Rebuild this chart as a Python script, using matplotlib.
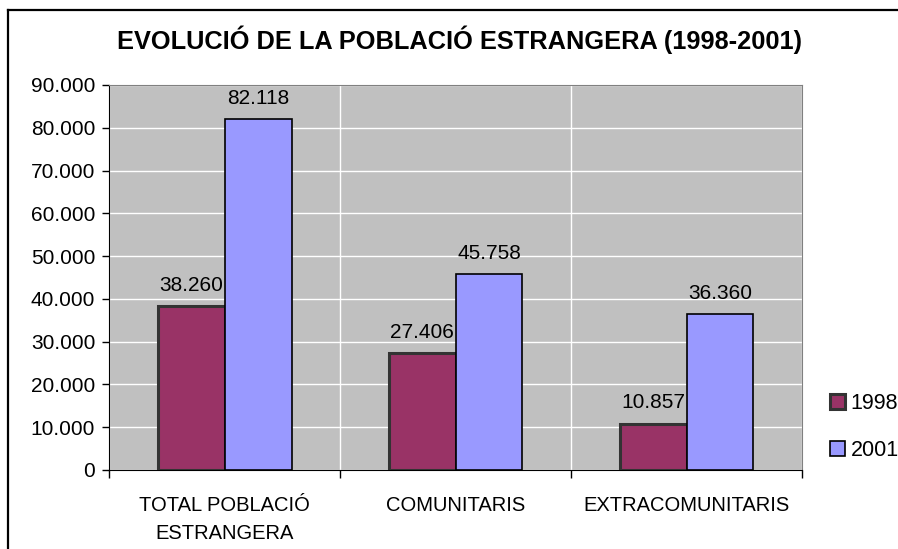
import matplotlib
matplotlib.use("Agg")
import matplotlib.pyplot as plt
from matplotlib.lines import Line2D
from matplotlib.ticker import FuncFormatter

categories = ["TOTAL POBLACIÓ\nESTRANGERA", "COMUNITARIS", "EXTRACOMUNITARIS"]
years = ["1998", "2001"]
vals_1998 = [38260, 27406, 10857]
vals_2001 = [82118, 45758, 36360]
yticks = list(range(0, 90001, 10000))

narrow = ["Liberation Sans Narrow", "Liberation Sans", "DejaVu Sans"]
plt.rcParams["font.family"] = ["Liberation Sans", "DejaVu Sans"]


def thousands(v, pos=None):
    return f"{int(v):,}".replace(",", ".")


fig = plt.figure(figsize=(8.98, 5.49), dpi=100)
ax = fig.add_axes([0.1214, 0.1439, 0.7717, 0.7013])
ax.set_facecolor("#C0C0C0")

w = 0.29
x = list(range(len(categories)))
b1 = ax.bar([i - w / 2 for i in x], vals_1998, width=w, color="#993366",
            edgecolor="#333333", linewidth=2.2, label=years[0], zorder=3)
b2 = ax.bar([i + w / 2 for i in x], vals_2001, width=w, color="#9999FF",
            edgecolor="black", linewidth=1.2, label=years[1], zorder=3)

for bars, vals in ((b1, vals_1998), (b2, vals_2001)):
    for r, v in zip(bars, vals):
        ax.annotate(thousands(v), (r.get_x() + r.get_width() / 2, v),
                    xytext=(0, 8), textcoords="offset points",
                    ha="center", va="bottom", fontsize=15, zorder=4)

ax.set_xlim(-0.5, len(categories) - 0.5)
ax.set_ylim(0, 90000)
ax.set_yticks(yticks)
ax.yaxis.set_major_formatter(FuncFormatter(thousands))
ax.tick_params(axis="y", labelsize=15, length=5, width=1, direction="out", pad=5)

# category boundaries as major ticks, names on minor ticks
ax.set_xticks([i - 0.5 for i in range(len(categories) + 1)])
ax.set_xticklabels([])
ax.set_xticks(x, minor=True)
ax.set_xticklabels(categories, minor=True, fontsize=14.5, family=narrow,
                   linespacing=1.55)
ax.tick_params(axis="x", which="major", length=6, width=1, direction="out")
ax.tick_params(axis="x", which="minor", length=0, pad=19)

ax.grid(True, color="white", linewidth=1, zorder=0)
ax.set_axisbelow(True)

ax.spines["left"].set_color("black")
ax.spines["bottom"].set_color("black")
ax.spines["right"].set_color("#808080")
ax.spines["top"].set_color("#808080")

fig.text(0.512, 0.927, "EVOLUCIÓ DE LA POBLACIÓ ESTRANGERA (1998-2001)",
         ha="center", va="center", fontsize=18.3, fontweight="bold",
         family=narrow)

fig.legend(handles=[b1, b2], labels=years, loc="center left",
           bbox_to_anchor=(0.915, 0.222), frameon=False, fontsize=15.5,
           handlelength=0.7, handleheight=0.7, handletextpad=0.25,
           labelspacing=1.2, borderaxespad=0)

# outer chart border (left and top edges visible)
fig.add_artist(Line2D([0.0085, 0.0085], [0, 0.981], color="black",
                      linewidth=1.6, transform=fig.transFigure))
fig.add_artist(Line2D([0.0085, 1.0], [0.981, 0.981], color="black",
                      linewidth=1.6, transform=fig.transFigure))

fig.savefig("out.png", dpi=100)
